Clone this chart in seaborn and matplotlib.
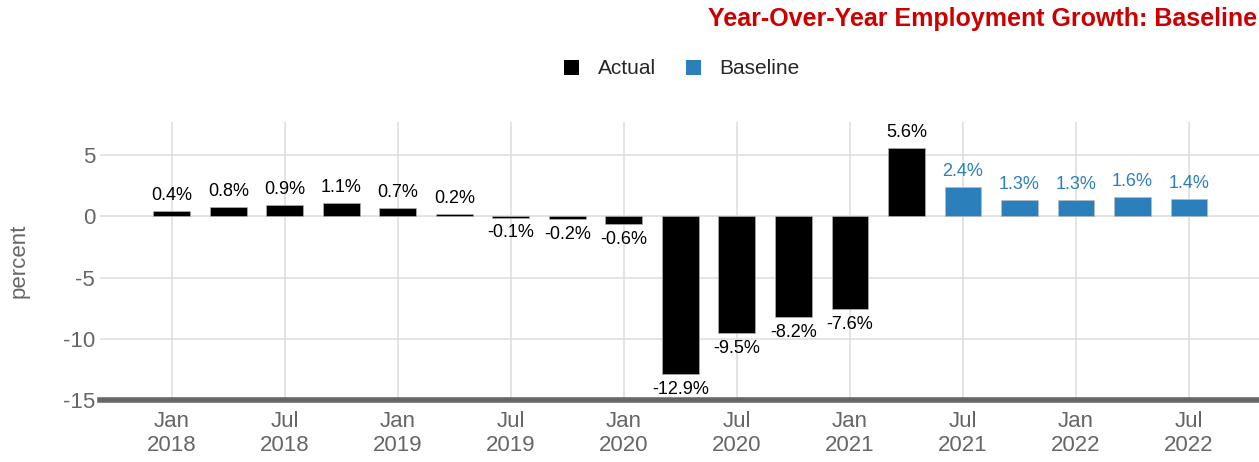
import matplotlib
matplotlib.use("Agg")
import matplotlib.pyplot as plt
import pandas as pd
import seaborn as sns

# quarterly year-over-year employment growth, Q1 2018 .. Q3 2022
actual_vals = [0.4, 0.8, 0.9, 1.1, 0.7, 0.2, -0.1, -0.2, -0.6,
               -12.9, -9.5, -8.2, -7.6, 5.6]
baseline_vals = [2.4, 1.3, 1.3, 1.6, 1.4]
tick_labels = ["Jan\n2018", "Jul\n2018", "Jan\n2019", "Jul\n2019", "Jan\n2020",
               "Jul\n2020", "Jan\n2021", "Jul\n2021", "Jan\n2022", "Jul\n2022"]

series = ["Actual"] * len(actual_vals) + ["Baseline"] * len(baseline_vals)
values = actual_vals + baseline_vals
df = pd.DataFrame({"q": range(len(values)), "value": values, "series": series})

BLUE = "#2b7fba"
GRAY = "#666666"

sns.set_style("white")
plt.rcParams["font.family"] = ["Liberation Sans", "DejaVu Sans"]

fig = plt.figure(figsize=(12.59, 4.62), dpi=100)
ax = fig.add_axes([100 / 1259, 62 / 462, 1 - 100 / 1259, 278 / 462])

sns.barplot(data=df, x="q", y="value", hue="series", dodge=False, width=0.65,
            palette={"Actual": "black", "Baseline": BLUE}, saturation=1, ax=ax,
            edgecolor="#bbbbbb", linewidth=0.4)

for cont, col in zip(ax.containers, ["black", BLUE]):
    labs = [f"{b.get_height():.1f}%" if not pd.isna(b.get_height()) else "" for b in cont]
    ax.bar_label(cont, labels=labs, padding=5, color=col, fontsize=13)

ax.set_xlim(-1.27, 19.24)
ax.set_ylim(-15, 7.7)
ax.set_yticks([5, 0, -5, -10, -15])
ax.set_yticklabels(["5", "0", "-5", "-10", "-15"])
ax.set_xticks(range(0, len(values), 2))
ax.set_xticklabels(tick_labels)
ax.tick_params(axis="both", labelsize=16, labelcolor=GRAY, length=0)
ax.tick_params(axis="x", pad=8)
ax.set_xlabel("")
ax.set_ylabel("percent", fontsize=16, color=GRAY, labelpad=24)
ax.grid(True, color="#dcdcdc", linewidth=1.1)
ax.set_axisbelow(True)
for s in ["top", "right", "left"]:
    ax.spines[s].set_visible(False)
ax.spines["bottom"].set_color(GRAY)
ax.spines["bottom"].set_linewidth(4)

sns.move_legend(ax, "center", bbox_to_anchor=(682 / 1259, 1 - 69 / 462),
                bbox_transform=fig.transFigure, ncol=2, frameon=False, title=None,
                fontsize=15, handlelength=0.72, handleheight=0.72, columnspacing=1.4,
                handletextpad=0.9)
for h in ax.get_legend().legend_handles:
    h.set_edgecolor("none")

fig.text(1257 / 1259, 1 - 19 / 462, "Year-Over-Year Employment Growth: Baseline",
         ha="right", va="center", fontsize=18, fontweight="bold", color="#cc0000")

fig.savefig("out.png", dpi=100)
